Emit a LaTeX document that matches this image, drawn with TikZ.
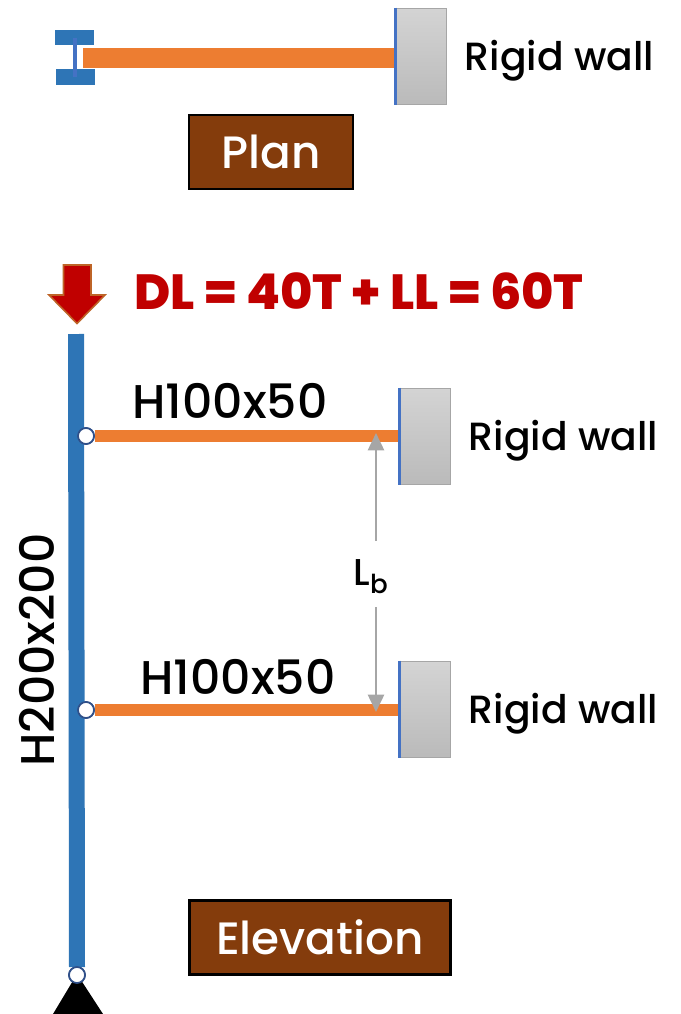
\documentclass[tikz,border=0pt]{standalone}
\usepackage{fontspec}
\setmainfont{Poppins Medium}
\newfontfamily\heavyfont{Poppins ExtraBold}
\usetikzlibrary{arrows.meta}
\definecolor{colblue}{HTML}{2E75B6}
\definecolor{webblue}{HTML}{4472C4}
\definecolor{beamorange}{HTML}{ED7D31}
\definecolor{boxbrown}{HTML}{843C0C}
\definecolor{loadred}{HTML}{C00000}
\tikzset{
  wall/.style={draw=black!35,line width=1.2pt,top color=black!17,bottom color=black!27,
    minimum width=37.5pt,minimum height=72pt,inner sep=0pt},
  face/.style={webblue,line width=2.2pt},
  beam/.style={beamorange,line width=9pt},
  column/.style={colblue,line width=12pt},
  hinge/.style={circle,draw=webblue!70!black,line width=1.3pt,fill=white,minimum size=12pt,inner sep=0pt},
  title/.style={draw=black,line width=2.2pt,fill=boxbrown,text=white,font=\fontsize{34}{34}\selectfont,inner sep=0pt,minimum height=55.5pt},
  lab/.style={font=\fontsize{29.5}{30}\selectfont,inner sep=0pt},
  sec/.style={font=\fontsize{35.5}{36}\selectfont,inner sep=0pt},
  dim/.style={draw=black!35,line width=2pt,-{Triangle[length=13pt,width=12pt]}}
}
\begin{document}
\begin{tikzpicture}[x=0.75pt,y=-0.75pt]
  \useasboundingbox (0,0) rectangle (681,1014);
  % plan
  \fill[colblue] (55,30) rectangle (94,45);
  \fill[colblue] (56,69) rectangle (95,85);
  \draw[webblue,line width=3pt] (75,38) -- (75,77);
  \node[wall] (wallp) at (421.5,56.5) {};
  \coordinate (beamp) at (83,58);
  \draw[beamorange,line width=15pt] (beamp) -- (beamp -| wallp.west);
  \draw[face] (wallp.north west) -- (wallp.south west);
  \node[lab,anchor=base] (rigidp) at (559.5,70) {Rigid wall};
  \node[title,minimum width=123pt] (plan) at (271,152) {Plan};
  % load
  \node[inner sep=0pt,font=\fontsize{37}{37}\heavyfont,text=loadred,anchor=base] (load) at (359,309) {DL = 40T + LL = 60T};
  \filldraw[fill=loadred,draw=beamorange!80!black,line width=1.2pt]
    (63.5,265) -- (91,265) -- (91,295) -- (105,295) -- (77,323.5) -- (49,295) -- (63.5,295) -- cycle;
  % elevation
  \node[hinge] (hinge1) at (86,436) {};
  \node[hinge] (hinge2) at (86,710) {};
  \node[hinge] (hingeb) at (77,975) {};
  \coordinate (coltop) at (76,334);
  \coordinate (colbot) at (77,967);
  \node[wall] (wall1) at (425.5,436.5) {};
  \node[wall] (wall2) at (425.5,709.5) {};
  \draw[column] (coltop) -- (colbot);
  \draw[beam] (hinge1) -- (hinge1 -| wall1.west);
  \draw[beam] (hinge2) -- (hinge2 -| wall2.west);
  \node[hinge] at (hinge1) {};
  \node[hinge] at (hinge2) {};
  \draw[face] (wall1.north west) -- (wall1.south west);
  \draw[face] (wall2.north west) -- (wall2.south west);
  \fill[black] (77,974) -- (103,1014) -- (53,1014) -- cycle;
  \node[hinge] at (hingeb) {};
  \node[lab,anchor=base] (rigid1) at (563.5,450) {Rigid wall};
  \node[lab,anchor=base] (rigid2) at (563.5,723) {Rigid wall};
  \node[sec,anchor=base] (sec1) at (230,418.5) {H100x50};
  \node[sec,anchor=base] (sec2) at (238,694.5) {H100x50};
  \node[sec,rotate=90,anchor=base] (sec3) at (54,650) {H200x200};
  \node[inner sep=0pt,font=\fontsize{28}{28}\selectfont] (lb) at (371,577) {L\textsubscript{b}};
  \coordinate (lbup) at (376,541);
  \coordinate (lbdown) at (376,607);
  \coordinate (lbtop) at (376,433);
  \coordinate (lbbot) at (376,712);
  \draw[dim] (lbup) -- (lbtop);
  \draw[dim] (lbdown) -- (lbbot);
  \node[title,minimum width=196pt] (elev) at (320,937.5) {Elevation};
\end{tikzpicture}
\end{document}
